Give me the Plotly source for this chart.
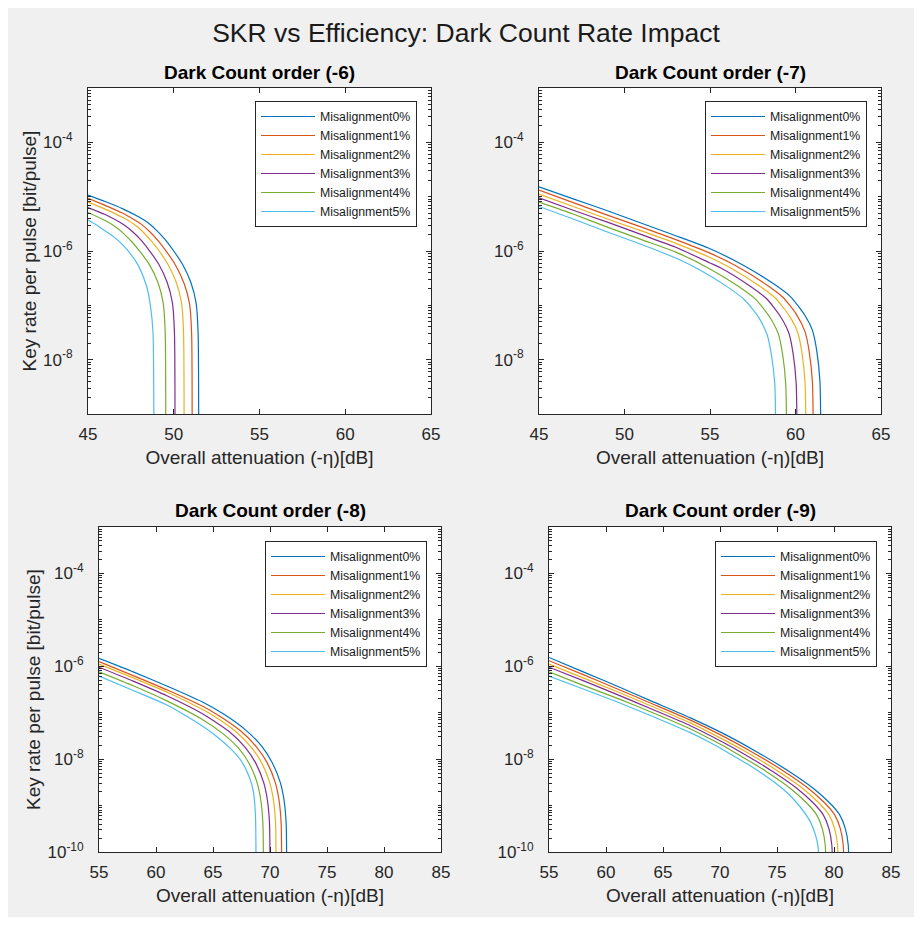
import plotly.graph_objects as go

# ---------------- data ----------------
series_names = ["Misalignment0%", "Misalignment1%", "Misalignment2%",
                "Misalignment3%", "Misalignment4%", "Misalignment5%"]
panel_titles = ["Dark Count order (-6)", "Dark Count order (-7)",
                "Dark Count order (-8)", "Dark Count order (-9)"]
x_ticks_top = [45, 50, 55, 60, 65]
x_ticks_bottom = [55, 60, 65, 70, 75, 80, 85]

# Dark count order -6
dc6_x0 = [45, 46, 47, 48, 48.5, 49, 49.5, 50, 50.5, 51, 51.3, 51.42, 51.45]
dc6_y0 = [1.07e-5, 8.13e-6, 6.03e-6, 4.17e-6, 3.31e-6, 2.40e-6, 1.62e-6, 1.00e-6, 5.75e-7, 2.63e-7, 1.12e-7, 3.16e-8, 1e-11]
dc6_x1 = [45, 46, 47, 47.62, 48.12, 48.62, 49.12, 49.62, 50.12, 50.62, 50.92, 51.04, 51.07]
dc6_y1 = [9.33e-6, 6.92e-6, 5.01e-6, 3.89e-6, 3.09e-6, 2.24e-6, 1.51e-6, 9.33e-7, 5.37e-7, 2.45e-7, 1.07e-7, 3.16e-8, 1e-11]
dc6_x2 = [45, 46, 47, 47.65, 48.15, 48.65, 49.15, 49.65, 50.15, 50.45, 50.57, 50.6]
dc6_y2 = [7.94e-6, 5.89e-6, 4.17e-6, 3.16e-6, 2.34e-6, 1.58e-6, 1.00e-6, 5.75e-7, 2.63e-7, 1.12e-7, 3.16e-8, 1e-11]
dc6_x3 = [45, 46, 47, 47.62, 48.12, 48.62, 49.12, 49.62, 49.92, 50.04, 50.07]
dc6_y3 = [6.31e-6, 4.68e-6, 3.16e-6, 2.24e-6, 1.55e-6, 9.77e-7, 5.75e-7, 2.63e-7, 1.12e-7, 3.16e-8, 1e-11]
dc6_x4 = [45, 46, 46.58, 47.08, 47.58, 48.08, 48.58, 49.08, 49.38, 49.5, 49.53]
dc6_y4 = [5.13e-6, 3.63e-6, 2.82e-6, 2.09e-6, 1.45e-6, 9.33e-7, 5.62e-7, 2.63e-7, 1.12e-7, 3.16e-8, 1e-11]
dc6_x5 = [45, 45.5, 46, 46.5, 46.94, 47.4, 47.92, 48.4, 48.65, 48.79, 48.85]
dc6_y5 = [3.72e-6, 3.02e-6, 2.34e-6, 1.82e-6, 1.38e-6, 9.55e-7, 5.50e-7, 2.34e-7, 9.33e-8, 3.16e-8, 1e-11]

# Dark count order -7
dc7_x0 = [45, 47, 49, 51, 53, 55, 57, 58.7, 59.7, 60.5, 61.0, 61.25, 61.43, 61.5]
dc7_y0 = [1.51e-5, 9.12e-6, 5.50e-6, 3.24e-6, 1.91e-6, 1.10e-6, 5.37e-7, 2.51e-7, 1.45e-7, 6.92e-8, 3.39e-8, 1.41e-8, 3.98e-9, 1e-11]
dc7_x1 = [45, 47, 49, 51, 53, 55, 56.56, 58.26, 59.26, 60.06, 60.56, 60.81, 60.99, 61.06]
dc7_y1 = [1.32e-5, 7.76e-6, 4.57e-6, 2.75e-6, 1.62e-6, 9.12e-7, 5.25e-7, 2.45e-7, 1.41e-7, 6.76e-8, 3.24e-8, 1.35e-8, 3.80e-9, 1e-11]
dc7_x2 = [45, 47, 49, 51, 53, 55, 56.13, 57.83, 58.83, 59.63, 60.13, 60.38, 60.56, 60.63]
dc7_y2 = [1.12e-5, 6.61e-6, 3.89e-6, 2.34e-6, 1.38e-6, 7.59e-7, 5.01e-7, 2.34e-7, 1.35e-7, 6.46e-8, 3.16e-8, 1.32e-8, 3.72e-9, 1e-11]
dc7_x3 = [45, 47, 49, 51, 53, 55, 55.61, 57.31, 58.31, 59.11, 59.61, 59.86, 60.04, 60.11]
dc7_y3 = [9.55e-6, 5.62e-6, 3.39e-6, 2.00e-6, 1.17e-6, 6.03e-7, 4.90e-7, 2.29e-7, 1.32e-7, 6.31e-8, 3.09e-8, 1.29e-8, 3.63e-9, 1e-11]
dc7_x4 = [45, 47, 49, 51, 53, 55, 56.7, 57.7, 58.5, 59.0, 59.25, 59.43, 59.50]
dc7_y4 = [7.94e-6, 4.79e-6, 2.75e-6, 1.62e-6, 9.55e-7, 4.68e-7, 2.19e-7, 1.26e-7, 6.03e-8, 2.95e-8, 1.23e-8, 3.47e-9, 1e-11]
dc7_x5 = [45, 47, 49, 51, 53, 54.36, 56.06, 57.06, 57.86, 58.36, 58.61, 58.79, 58.86]
dc7_y5 = [6.61e-6, 3.89e-6, 2.24e-6, 1.32e-6, 7.41e-7, 4.57e-7, 2.14e-7, 1.23e-7, 5.89e-8, 2.75e-8, 1.12e-8, 3.55e-9, 1e-11]

# Dark count order -8
dc8_x0 = [55, 58, 61, 64, 66, 67.9, 69.3, 70.2, 70.9, 71.23, 71.42, 71.46]
dc8_y0 = [1.48e-6, 7.59e-7, 3.72e-7, 1.74e-7, 9.12e-8, 4.17e-8, 1.86e-8, 8.32e-9, 3.16e-9, 1.32e-9, 3.98e-10, 1e-12]
dc8_x1 = [55, 58, 61, 64, 65.56, 67.46, 68.86, 69.76, 70.46, 70.79, 70.98, 71.02]
dc8_y1 = [1.26e-6, 6.31e-7, 3.09e-7, 1.41e-7, 8.51e-8, 3.98e-8, 1.78e-8, 8.32e-9, 3.16e-9, 1.32e-9, 3.98e-10, 1e-12]
dc8_x2 = [55, 58, 61, 64, 65.07, 66.97, 68.37, 69.27, 69.97, 70.30, 70.49, 70.53]
dc8_y2 = [1.12e-6, 5.62e-7, 2.75e-7, 1.20e-7, 8.51e-8, 3.98e-8, 1.78e-8, 8.32e-9, 3.16e-9, 1.32e-9, 3.98e-10, 1e-12]
dc8_x3 = [55, 58, 61, 64, 64.54, 66.44, 67.84, 68.74, 69.44, 69.77, 69.96, 70.0]
dc8_y3 = [9.55e-7, 4.79e-7, 2.29e-7, 9.77e-8, 8.13e-8, 3.89e-8, 1.78e-8, 8.32e-9, 3.16e-9, 1.32e-9, 3.98e-10, 1e-12]
dc8_x4 = [55, 58, 61, 63.96, 65.86, 67.26, 68.16, 68.86, 69.19, 69.38, 69.42]
dc8_y4 = [7.59e-7, 3.80e-7, 1.78e-7, 7.41e-8, 3.55e-8, 1.70e-8, 8.13e-9, 3.16e-9, 1.32e-9, 3.98e-10, 1e-12]
dc8_x5 = [55, 58, 61, 63.31, 65.21, 66.61, 67.51, 68.21, 68.54, 68.73, 68.77]
dc8_y5 = [6.17e-7, 3.02e-7, 1.45e-7, 6.76e-8, 3.24e-8, 1.62e-8, 8.91e-9, 3.98e-9, 2.00e-9, 5.62e-10, 1e-12]

# Dark count order -9
dc9_x0 = [55, 58, 61, 64, 67.4, 70.3, 73.2, 76.1, 78.2, 79.65, 80.5, 81.0, 81.25, 81.32]
dc9_y0 = [1.55e-6, 7.59e-7, 3.72e-7, 1.78e-7, 7.76e-8, 3.55e-8, 1.45e-8, 5.37e-9, 2.34e-9, 1.12e-9, 6.31e-10, 3.16e-10, 1.41e-10, 1e-12]
dc9_x1 = [55, 58, 61, 64, 67.4, 70.3, 72.76, 75.66, 77.76, 79.21, 80.06, 80.56, 80.81, 80.88]
dc9_y1 = [1.32e-6, 6.61e-7, 3.24e-7, 1.58e-7, 6.92e-8, 3.09e-8, 1.45e-8, 5.37e-9, 2.34e-9, 1.12e-9, 6.31e-10, 3.16e-10, 1.41e-10, 1e-12]
dc9_x2 = [55, 58, 61, 64, 67.4, 70.3, 72.26, 75.16, 77.26, 78.71, 79.56, 80.06, 80.31, 80.38]
dc9_y2 = [1.12e-6, 5.62e-7, 2.82e-7, 1.38e-7, 6.03e-8, 2.63e-8, 1.45e-8, 5.37e-9, 2.34e-9, 1.12e-9, 6.31e-10, 3.16e-10, 1.41e-10, 1e-12]
dc9_x3 = [55, 58, 61, 64, 67.4, 70.3, 71.76, 74.66, 76.76, 78.21, 79.06, 79.56, 79.81, 79.88]
dc9_y3 = [9.55e-7, 4.90e-7, 2.45e-7, 1.20e-7, 5.25e-8, 2.29e-8, 1.45e-8, 5.37e-9, 2.34e-9, 1.12e-9, 6.31e-10, 3.16e-10, 1.41e-10, 1e-12]
dc9_x4 = [55, 58, 61, 64, 67.4, 69.5, 71.18, 74.08, 76.18, 77.63, 78.48, 78.98, 79.23, 79.30]
dc9_y4 = [7.59e-7, 3.89e-7, 2.04e-7, 1.02e-7, 4.47e-8, 2.45e-8, 1.45e-8, 5.37e-9, 2.34e-9, 1.12e-9, 6.31e-10, 3.16e-10, 1.41e-10, 1e-12]
dc9_x5 = [55, 58, 61, 64, 67.4, 68.88, 70.56, 73.46, 75.56, 77.01, 77.86, 78.36, 78.61, 78.68]
dc9_y5 = [6.17e-7, 3.24e-7, 1.70e-7, 8.51e-8, 3.72e-8, 2.45e-8, 1.45e-8, 5.37e-9, 2.24e-9, 9.55e-10, 4.79e-10, 2.40e-10, 1.26e-10, 1e-12]

panels = [
    [(dc6_x0, dc6_y0), (dc6_x1, dc6_y1), (dc6_x2, dc6_y2), (dc6_x3, dc6_y3), (dc6_x4, dc6_y4), (dc6_x5, dc6_y5)],
    [(dc7_x0, dc7_y0), (dc7_x1, dc7_y1), (dc7_x2, dc7_y2), (dc7_x3, dc7_y3), (dc7_x4, dc7_y4), (dc7_x5, dc7_y5)],
    [(dc8_x0, dc8_y0), (dc8_x1, dc8_y1), (dc8_x2, dc8_y2), (dc8_x3, dc8_y3), (dc8_x4, dc8_y4), (dc8_x5, dc8_y5)],
    [(dc9_x0, dc9_y0), (dc9_x1, dc9_y1), (dc9_x2, dc9_y2), (dc9_x3, dc9_y3), (dc9_x4, dc9_y4), (dc9_x5, dc9_y5)],
]

# ---------------- styling ----------------
# the page body has an 8px margin on every side: size the figure so the
# whole page is exactly the 922x925 window (no scrolling, no rescaling)
OFF = 8
W, H = 922 - 2 * OFF, 925 - 2 * OFF
colors = ["#0072BD", "#D95319", "#EDB120", "#7E2F8E", "#77AC30", "#4DBEEE"]
FONT = "Liberation Sans, Arial, Helvetica, sans-serif"
AX = "#262626"

# plot boxes in window pixels: (left, right, top, bottom)
boxes = [(88, 431, 88, 414), (539, 881, 88, 414),
         (99, 441, 527, 852), (549, 891, 527, 852)]
legend_pos = [(417, 101), (867, 101), (427, 541), (877, 541)]
x_ranges = [[45, 65], [45, 65], [55, 85], [55, 85]]
x_ticks = [x_ticks_top, x_ticks_top, x_ticks_bottom, x_ticks_bottom]
y_ranges = [[-9, -3], [-9, -3], [-10, -3], [-10, -3]]


def fx(px):
    return (px - OFF) / W


def fy(py):
    return 1 - (py - OFF) / H


fig = go.Figure()

for p, curves in enumerate(panels):
    sfx = "" if p == 0 else str(p + 1)
    leg = "legend" if p == 0 else f"legend{p + 1}"
    for k, (xs, ys) in enumerate(curves):
        fig.add_trace(go.Scatter(
            x=xs, y=ys, mode="lines", name=series_names[k],
            line=dict(color=colors[k], width=1.2, shape="spline", smoothing=0.6),
            xaxis="x" + sfx, yaxis="y" + sfx, legend=leg,
        ))

layout = dict(
    width=W, height=H, autosize=False,
    margin=dict(l=0, r=0, t=0, b=0, pad=0, autoexpand=False),
    paper_bgcolor="#f0f0f0", plot_bgcolor="white",
    font=dict(family=FONT, color=AX),
    title=dict(text="SKR vs Efficiency: Dark Count Rate Impact",
               x=fx(466), xanchor="center", y=fy(33), yanchor="middle",
               font=dict(size=26.5, color="#1a1a1a", family=FONT)),
    annotations=[],
)

for p in range(4):
    l, r, t, b = boxes[p]
    sfx = "" if p == 0 else str(p + 1)
    lo, hi = y_ranges[p]
    labelled = [d for d in range(lo, hi) if d % 2 == 0]
    tv = [10.0 ** d for d in labelled]
    tt = [f"10<sup>{d}</sup>" for d in labelled]
    xa = dict(
        domain=[fx(l), fx(r)], range=x_ranges[p], tickvals=x_ticks[p],
        anchor="y" + sfx, showline=True, linecolor=AX, linewidth=1, mirror="ticks",
        ticks="inside", ticklen=5, tickcolor=AX, showgrid=False, zeroline=False,
        automargin=False,
        tickfont=dict(size=17, color=AX, family=FONT), ticklabelstandoff=5,
        title=dict(text="Overall attenuation (-η)[dB]", standoff=7,
                   font=dict(size=19, color=AX, family=FONT)),
    )
    ya = dict(
        domain=[fy(b), fy(t)], type="log", range=[lo, hi],
        tickvals=tv, ticktext=tt,
        anchor="x" + sfx, showline=True, linecolor=AX, linewidth=1, mirror="ticks",
        ticks="inside", ticklen=5, tickcolor=AX, showgrid=False, zeroline=False,
        automargin=False,
        tickfont=dict(size=17, color=AX, family=FONT),
        ticklabelstandoff=11,
        minor=dict(ticks="inside", ticklen=3, tickcolor=AX, dtick="D1", showgrid=False),
    )
    if p in (0, 2):
        ya["title"] = dict(text="Key rate per pulse [bit/pulse]", standoff=1,
                           font=dict(size=19, color=AX, family=FONT))
    layout["xaxis" + sfx] = xa
    layout["yaxis" + sfx] = ya

    lx, ly = legend_pos[p]
    leg = "legend" if p == 0 else f"legend{p + 1}"
    layout[leg] = dict(
        x=fx(lx), y=fy(ly), xanchor="right", yanchor="top",
        xref="paper", yref="paper",
        bgcolor="white", bordercolor=AX, borderwidth=1,
        font=dict(size=12.3, color="#1a1a1a", family=FONT),
        tracegroupgap=0, itemwidth=54,
    )

    layout["annotations"].append(dict(
        text=f"<b>{panel_titles[p]}</b>", x=fx((l + r) / 2), y=fy(t - 16),
        xref="paper", yref="paper", xanchor="center", yanchor="middle",
        showarrow=False, font=dict(size=19, color="#000000", family=FONT),
    ))

fig.update_layout(**layout)
fig.write_html("out.html")
